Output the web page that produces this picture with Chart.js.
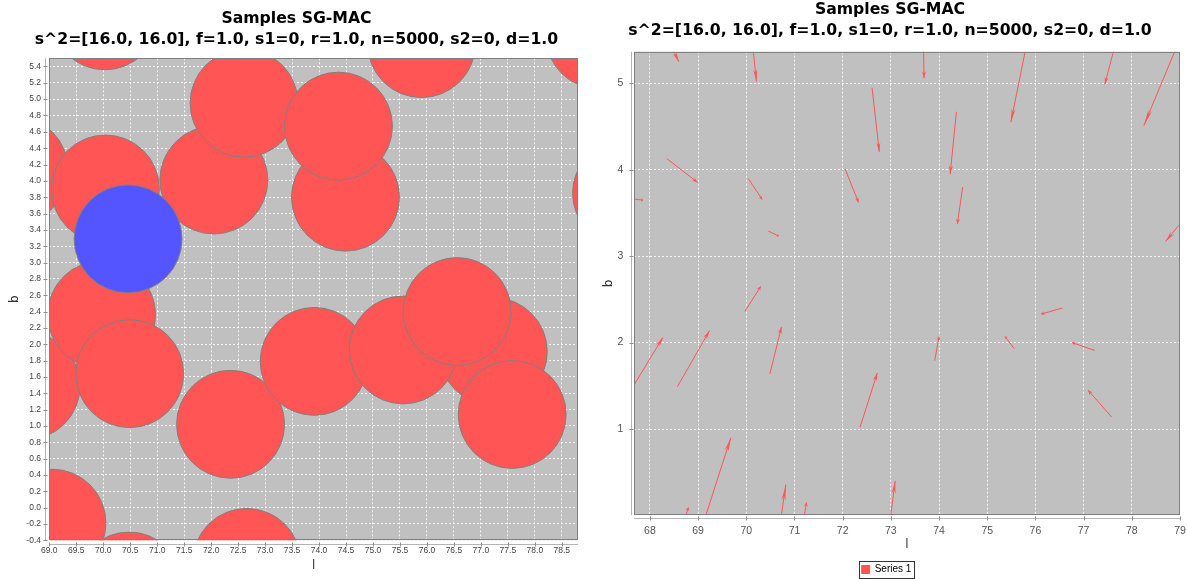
<!DOCTYPE html>
<html>
<head>
<meta charset="utf-8">
<script src="https://cdn.jsdelivr.net/npm/chart.js@4.4.1/dist/chart.umd.min.js"></script>
<style>
  html, body { margin: 0; padding: 0; background: #fff; }
  .wrap { display: flex; width: 1187px; height: 579px; }
  canvas { display: block; }
</style>
</head>
<body>
<div class="wrap">
  <canvas id="bubbleChart" width="593" height="579"></canvas>
  <canvas id="vectorChart" width="594" height="579"></canvas>
</div>
<script>
const titleLines = ['Samples SG-MAC', 's^2=[16.0, 16.0], f=1.0, s1=0, r=1.0, n=5000, s2=0, d=1.0'];

// samples drawn as red discs, in drawing order (later ones on top)
const sampleL = [70.03, 68.35, 70.04, 72.05, 72.61, 74.49, 74.36, 75.90, 79.20, 79.70,
                 68.57, 69.97, 70.49, 72.36, 73.91, 77.23, 75.56, 76.56, 77.58,
                 69.05, 70.48, 72.66];
const sampleB = [6.02, 4.13, 3.90, 4.01, 4.95, 3.80, 4.67, 5.68, 5.785, 3.85,
                 1.49, 2.36, 1.64, 1.02, 1.79, 1.91, 1.93, 2.40, 1.14,
                 -0.19, -0.96, -0.67];
// current point (blue)
const pointL = [70.46];
const pointB = [3.29];
// disc radius, in units of l
const discRadius = 1.0;

// vector field: tail (l, b) and offset (dl, db)
const vecL  = [70.03, 67.98, 73.67, 75.90, 77.71, 79.20, 72.61, 74.36, 74.49, 68.35,
               67.54, 70.04, 70.46, 72.05, 79.70, 69.97, 68.57, 67.54, 70.49, 73.91,
               75.56, 76.56, 77.23, 72.36, 77.58, 69.05, 68.64, 70.48, 71.15, 72.84];
const vecB  = [6.02, 5.97, 5.62, 5.68, 5.56, 5.785, 4.95, 4.67, 3.80, 4.13,
               3.67, 3.90, 3.29, 4.01, 3.85, 2.36, 1.49, 1.39, 1.64, 1.79,
               1.93, 2.40, 1.91, 1.02, 1.14, -0.19, -0.18, -0.96, -0.18, -0.67];
const vecDL = [0.18, 0.62, 0.02, -0.41, -0.27, -0.95, 0.15, -0.13, -0.11, 0.64,
               0.32, 0.29, 0.21, 0.28, -1.00, 0.33, 0.67, 0.73, 0.24, 0.09,
               -0.19, -0.44, -0.47, 0.36, -0.49, 0.63, 0.16, 0.34, 0.10, 0.25];
const vecDB = [-1.00, -0.72, -0.56, -1.13, -0.57, -1.275, -0.743, -0.723, -0.43, -0.277,
               -0.022, -0.244, -0.056, -0.389, -0.68, 0.29, 0.65, 0.67, 0.54, 0.28,
               0.14, -0.07, 0.09, 0.63, 0.31, 1.09, 0.273, 1.317, 0.33, 1.07];

const red = '#ff5555';
const blue = '#5555ff';
const plotBg = '#c0c0c0';
const gridWhite = 'rgba(255,255,255,0.85)';

// grey plot background, outline, and axis lines set slightly apart from the plot
const plotFrame = {
  id: 'plotFrame',
  afterLayout(chart) {
    // centre the title over the whole canvas, not just the padded box
    if (chart.titleBlock) {
      chart.titleBlock.left = 0;
      chart.titleBlock.right = chart.width;
    }
  },
  beforeDraw(chart) {
    const { ctx, chartArea: a } = chart;
    ctx.save();
    ctx.fillStyle = plotBg;
    ctx.fillRect(a.left, a.top, a.width, a.height);
    ctx.restore();
  },
  afterDraw(chart, args, opts) {
    const { ctx, chartArea: a, scales } = chart;
    const gap = opts.gap || 3;
    ctx.save();
    ctx.lineWidth = 1;
    ctx.strokeStyle = '#808080';
    ctx.strokeRect(Math.round(a.left) + 0.5, Math.round(a.top) + 0.5,
                   Math.round(a.width) - 1, Math.round(a.height) - 1);
    ctx.strokeStyle = '#b4b4b4';
    const ax = Math.round(a.left - gap) + 0.5;
    const ay = Math.round(a.bottom + gap) + 0.5;
    ctx.beginPath();
    ctx.moveTo(ax, a.top); ctx.lineTo(ax, a.bottom);
    ctx.moveTo(a.left, ay); ctx.lineTo(a.right, ay);
    ctx.stroke();
    ctx.strokeStyle = '#909090';
    ctx.beginPath();
    scales.x.ticks.forEach(t => {
      const px = Math.round(scales.x.getPixelForValue(t.value)) + 0.5;
      ctx.moveTo(px, ay - 2); ctx.lineTo(px, ay + 2);
    });
    scales.y.ticks.forEach(t => {
      const py = Math.round(scales.y.getPixelForValue(t.value)) + 0.5;
      ctx.moveTo(ax - 2, py); ctx.lineTo(ax + 2, py);
    });
    ctx.stroke();
    ctx.restore();
  }
};

// arrow heads at the tip of each vector segment
const arrowHeads = {
  id: 'arrowHeads',
  afterDatasetsDraw(chart) {
    const { ctx, chartArea: a } = chart;
    const pts = chart.getDatasetMeta(0).data;
    ctx.save();
    ctx.beginPath();
    ctx.rect(a.left, a.top, a.width, a.height);
    ctx.clip();
    ctx.fillStyle = red;
    for (let i = 0; i + 1 < pts.length; i += 2) {
      const x0 = pts[i].x, y0 = pts[i].y, x1 = pts[i + 1].x, y1 = pts[i + 1].y;
      const dx = x1 - x0, dy = y1 - y0;
      const len = Math.hypot(dx, dy);
      if (!len) continue;
      const nx = -dy / len * 2, ny = dx / len * 2;
      const bx = x0 + 0.90 * dx, by = y0 + 0.90 * dy;
      const cx = x0 + 0.86 * dx, cy = y0 + 0.86 * dy;
      ctx.beginPath();
      ctx.moveTo(x1, y1);
      ctx.lineTo(cx + nx, cy + ny);
      ctx.lineTo(bx, by);
      ctx.lineTo(cx - nx, cy - ny);
      ctx.closePath();
      ctx.fill();
    }
    ctx.restore();
  }
};

// thin box around the legend
const legendBox = {
  id: 'legendBox',
  afterDraw(chart) {
    const lg = chart.legend;
    if (!lg || !lg.legendHitBoxes || !lg.legendHitBoxes.length) return;
    const hb = lg.legendHitBoxes[0];
    const { ctx } = chart;
    ctx.save();
    ctx.strokeStyle = '#333';
    ctx.lineWidth = 1;
    ctx.strokeRect(Math.round(hb.left - 3) + 0.5, Math.round(hb.top - 3.5) + 0.5,
                   Math.round(hb.width + 5), Math.round(hb.height + 7));
    ctx.restore();
  }
};

// keep tick labels from adding extra room at the plot edges
const noEdgePad = s => { s.paddingLeft = 0; s.paddingRight = 0; s.paddingTop = 0; s.paddingBottom = 0; };

const titleOpts = (top, bottom) => ({
  display: true,
  text: titleLines,
  color: '#000',
  font: { family: 'DejaVu Sans', size: 15.7, weight: 'bold', lineHeight: 1.306 },
  padding: { top: top, bottom: bottom }
});

const axisTitle = (text, pad) => ({
  display: true,
  text: text,
  color: '#333',
  font: { family: 'DejaVu Sans', size: 12, lineHeight: 1.2 },
  padding: pad
});

const smallTick = { family: 'Liberation Sans', size: 8.5, lineHeight: 1.2 };

const bubbleChart = new Chart(document.getElementById('bubbleChart'), {
  type: 'bubble',
  data: {
    datasets: [
      {
        label: 'Current',
        data: pointL.map((l, i) => ({ x: l, y: pointB[i], r: 0 })),
        backgroundColor: blue,
        borderColor: '#808080',
        borderWidth: 1,
        clip: 0
      },
      {
        label: 'Samples',
        data: sampleL.map((l, i) => ({ x: l, y: sampleB[i], r: 0 })),
        backgroundColor: red,
        borderColor: '#808080',
        borderWidth: 1,
        clip: 0
      }
    ]
  },
  options: {
    responsive: false,
    animation: false,
    events: [],
    layout: { autoPadding: false, padding: { left: 0, right: 15, top: 0, bottom: 0 } },
    plugins: {
      legend: { display: false },
      tooltip: { enabled: false },
      title: titleOpts(8.75, 8.55),
      plotFrame: { gap: 4 }
    },
    scales: {
      x: {
        type: 'linear',
        min: 69.0,
        max: 78.8,
        afterFit: s => { s.height = 38.7; noEdgePad(s); },
        ticks: {
          stepSize: 0.5, includeBounds: false, autoSkip: false, maxRotation: 0,
          padding: 5.6, color: '#444', font: smallTick,
          callback: v => v.toFixed(1)
        },
        grid: { color: gridWhite, lineWidth: 1, drawTicks: false },
        border: { display: false, dash: [2, 2] },
        title: axisTitle('l', { top: 0, bottom: 5.8 })
      },
      y: {
        type: 'linear',
        min: -0.4,
        max: 5.5,
        afterFit: s => { s.width = 49.3; noEdgePad(s); },
        ticks: {
          stepSize: 0.2, includeBounds: false, autoSkip: false,
          padding: 8.3, color: '#444', font: smallTick,
          callback: v => v.toFixed(1)
        },
        grid: { color: gridWhite, lineWidth: 1, drawTicks: false },
        border: { display: false, dash: [2, 2] },
        title: axisTitle('b', { top: 7.8, bottom: 0 })
      }
    }
  },
  plugins: [plotFrame]
});

// disc size in pixels follows the l axis: one discRadius of l
const xs = bubbleChart.scales.x;
const discPx = Math.abs(xs.getPixelForValue(xs.min + discRadius) - xs.getPixelForValue(xs.min));
bubbleChart.data.datasets.forEach(ds => {
  ds.data = ds.data.map(p => ({ x: p.x, y: p.y, r: discPx }));
});
bubbleChart.update();

// tail/tip pairs; the joining segments between pairs are left transparent
const vecPoints = [];
vecL.forEach((l, i) => {
  vecPoints.push({ x: l, y: vecB[i] });
  vecPoints.push({ x: l + vecDL[i], y: vecB[i] + vecDB[i] });
});

new Chart(document.getElementById('vectorChart'), {
  type: 'scatter',
  data: {
    datasets: [{
      label: 'Series 1',
      data: vecPoints,
      showLine: true,
      borderColor: red,
      backgroundColor: red,
      borderWidth: 1,
      pointRadius: 0,
      segment: {
        borderColor: c => (c.p0DataIndex % 2 ? 'rgba(0,0,0,0)' : red)
      }
    }]
  },
  options: {
    responsive: false,
    animation: false,
    events: [],
    layout: { autoPadding: false, padding: { left: 0, right: 7, top: 0, bottom: -5.5 } },
    plugins: {
      legend: {
        display: true,
        position: 'bottom',
        labels: {
          boxWidth: 8, boxHeight: 8, padding: 4, color: '#000',
          font: { family: 'Liberation Sans', size: 10 }
        }
      },
      tooltip: { enabled: false },
      title: titleOpts(0, 10.7),
      plotFrame: { gap: 3 }
    },
    scales: {
      x: {
        type: 'linear',
        min: 67.67,
        max: 79.0,
        afterFit: s => { s.height = 45.5; noEdgePad(s); },
        ticks: {
          stepSize: 1, includeBounds: false, autoSkip: false, maxRotation: 0,
          padding: 10, color: '#555', font: { family: 'Liberation Sans', size: 10.5 }
        },
        grid: { color: gridWhite, lineWidth: 1, drawTicks: false },
        border: { display: false, dash: [2, 2] },
        title: axisTitle('l', { top: 0, bottom: 8.3 })
      },
      y: {
        type: 'linear',
        min: 0.005,
        max: 5.366,
        afterFit: s => { s.width = 41; noEdgePad(s); },
        ticks: {
          stepSize: 1, includeBounds: false, autoSkip: false,
          padding: 10.7, color: '#555', font: { family: 'Liberation Sans', size: 10.5 }
        },
        grid: { color: gridWhite, lineWidth: 1, drawTicks: false },
        border: { display: false, dash: [2, 2] },
        title: axisTitle('b', { top: 8.8, bottom: 0 })
      }
    }
  },
  plugins: [plotFrame, arrowHeads, legendBox]
});
</script>
</body>
</html>
